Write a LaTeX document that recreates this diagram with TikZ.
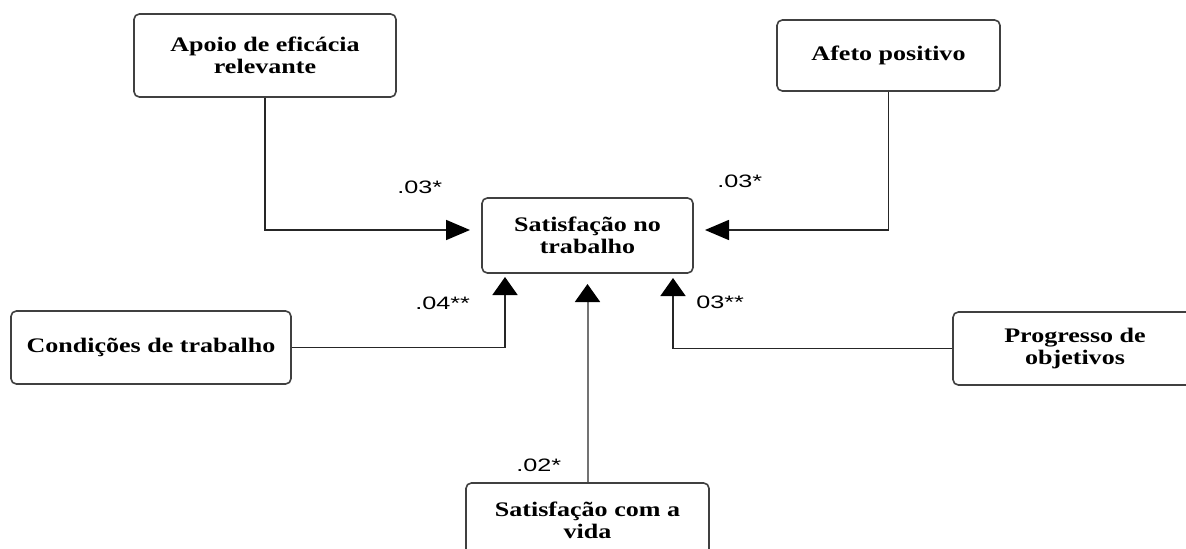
\documentclass[tikz,border=0pt]{standalone}
\usepackage{fontspec}
\setmainfont{Liberation Serif}[FakeStretch=1.26]
\newfontfamily\lblfont{Liberation Sans}[FakeStretch=1.4]
\usetikzlibrary{arrows.meta}
\begin{document}
\begin{tikzpicture}[x=0.75pt,y=-0.75pt,
  box/.style={draw=black!75, line width=1.2pt, rounded corners=4pt, fill=white,
    align=center, inner sep=0pt, font=\fontsize{15.5}{16.5}\selectfont\bfseries},
  size/.style 2 args={minimum width=#1*0.75pt, minimum height=#2*0.75pt},
  link/.style={draw=black!85, line width=1.2pt},
  harrow/.style={-{Triangle[length=18pt,width=15pt,color=black]}},
  varrow/.style={-{Triangle[length=13.5pt,width=18.75pt,color=black]}},
  coef/.style={font=\lblfont\fontsize{13.5}{15}\selectfont, anchor=base west, inner sep=0pt}]
\useasboundingbox (0,0) rectangle (1186,549);
\clip (0,0) rectangle (1186,549);

% variables
\node[box, size={262}{83}] (apoio) at (265,55.5) {Apoio de eficácia\\relevante};
\node[box, size={223}{71}] (afeto) at (888.5,55.5) {Afeto positivo};
\node[box, size={211}{75}] (sat)   at (587.5,235.5) {Satisfação no\\trabalho};
\node[box, size={280}{73}] (cond)  at (151,347.5) {Condições de trabalho};
\node[box, size={244}{73}] (prog)  at (1075,348.5) {Progresso de\\objetivos};
\node[box, size={243}{74}] (vida)  at (587.5,520) {Satisfação com a\\vida};

% arrow tips, just short of the outcome box
\coordinate (tA) at (470,230);
\coordinate (tB) at (705,230);
\coordinate (tC) at (505,277);
\coordinate (tD) at (587.5,284);
\coordinate (tE) at (673,278);

% paths
\draw[link,harrow] (apoio.south) |- (tA);
\draw[link,harrow] (afeto.south) |- (tB);
\draw[link,varrow] (cond.east) -| (tC);
\draw[link,varrow] (prog.west) -| (tE);
\draw[link,varrow,draw=black!55,line width=1.5pt] (vida.north) -- (tD);

% coefficients
\node[coef] (cA) at (397,194) {.03*};
\node[coef] (cB) at (717,188) {.03*};
\node[coef] (cC) at (415,310) {.04**};
\node[coef] (cE) at (696,308) {03**};
\node[coef] (cD) at (516,471) {.02*};
\end{tikzpicture}
\end{document}
